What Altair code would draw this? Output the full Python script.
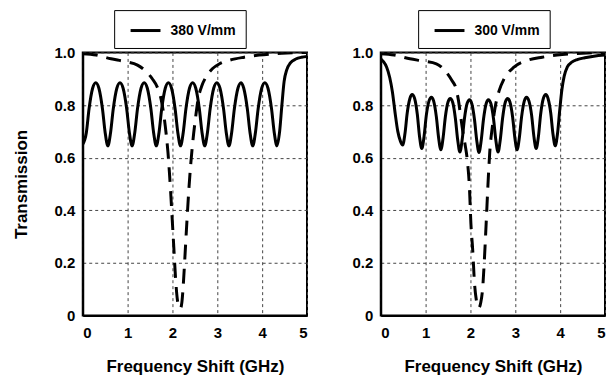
import altair as alt
import pandas as pd

# ---- data ----
x_ticks = [0, 1, 2, 3, 4, 5]
y_ticks = [0, 0.2, 0.4, 0.6, 0.8, 1.0]

label_380 = "380 V/mm"
label_300 = "300 V/mm"

# solid curve, 380 V/mm panel
freq_380 = [0.00, 0.08, 0.14, 0.22, 0.29,
            0.36, 0.44, 0.50, 0.56, 0.62, 0.68, 0.76, 0.83,
            0.90, 0.98, 1.04, 1.10, 1.16, 1.22, 1.30, 1.37,
            1.44, 1.52, 1.58, 1.64, 1.70, 1.76, 1.84, 1.91,
            1.98, 2.06, 2.12, 2.18, 2.24, 2.30, 2.38, 2.45,
            2.52, 2.60, 2.66, 2.72, 2.78, 2.84, 2.92, 2.99,
            3.06, 3.14, 3.20, 3.26, 3.32, 3.38, 3.46, 3.53,
            3.59, 3.67, 3.73, 3.79, 3.85, 3.91, 3.99, 4.06,
            4.13, 4.21, 4.27, 4.33, 4.39, 4.44, 4.49, 4.55, 4.63, 4.75, 4.88, 5.00]
trans_380 = [0.651, 0.695, 0.785, 0.864, 0.885,
             0.864, 0.785, 0.695, 0.645, 0.695, 0.785, 0.864, 0.885,
             0.864, 0.785, 0.695, 0.645, 0.695, 0.785, 0.864, 0.885,
             0.864, 0.785, 0.695, 0.645, 0.695, 0.785, 0.864, 0.885,
             0.864, 0.785, 0.695, 0.645, 0.695, 0.785, 0.864, 0.885,
             0.864, 0.785, 0.695, 0.645, 0.695, 0.785, 0.864, 0.885,
             0.864, 0.785, 0.695, 0.645, 0.695, 0.785, 0.864, 0.885,
             0.864, 0.785, 0.695, 0.645, 0.695, 0.785, 0.864, 0.885,
             0.864, 0.785, 0.695, 0.645, 0.70, 0.80, 0.89, 0.935, 0.96, 0.975, 0.982, 0.985]

# dashed curve, 380 V/mm panel
dfreq_380 = [0.00, 0.30, 0.63, 0.95, 1.22, 1.41, 1.55, 1.67, 1.75, 1.81,
             1.86, 1.90, 1.93, 1.96, 1.99, 2.03, 2.07, 2.11, 2.15, 2.18,
             2.21, 2.25, 2.29, 2.33, 2.37, 2.41, 2.45, 2.51, 2.57, 2.66,
             2.76, 2.89, 3.05, 3.26, 3.60, 3.93, 4.44, 5.00]
dtrans_380 = [0.995, 0.99, 0.976, 0.965, 0.952, 0.928, 0.90, 0.865, 0.82, 0.76,
              0.69, 0.62, 0.55, 0.47, 0.38, 0.26, 0.14, 0.06, 0.03, 0.028,
              0.05, 0.14, 0.26, 0.38, 0.49, 0.58, 0.655, 0.745, 0.82, 0.875,
              0.91, 0.938, 0.957, 0.97, 0.982, 0.99, 0.997, 1.0]

# solid curve, 300 V/mm panel
freq_300 = [0.00, 0.06, 0.13, 0.20, 0.26, 0.32, 0.38, 0.44, 0.49,
            0.54, 0.59, 0.65, 0.70,
            0.755, 0.815, 0.865, 0.915, 0.965, 1.015, 1.075, 1.13,
            1.18, 1.24, 1.29, 1.34, 1.39, 1.44, 1.50, 1.55,
            1.605, 1.665, 1.715, 1.765, 1.815, 1.865, 1.925, 1.98,
            2.03, 2.09, 2.14, 2.19, 2.24, 2.29, 2.35, 2.40,
            2.455, 2.515, 2.565, 2.615, 2.665, 2.715, 2.775, 2.83,
            2.88, 2.94, 2.99, 3.04, 3.09, 3.14, 3.20, 3.25,
            3.305, 3.365, 3.415, 3.465, 3.515, 3.565, 3.625, 3.68,
            3.73, 3.79, 3.84, 3.89, 3.94, 3.99, 4.04, 4.09, 4.16, 4.26, 4.38, 4.55, 4.75, 5.00]
trans_300 = [0.976, 0.965, 0.945, 0.905, 0.85, 0.77, 0.70, 0.662, 0.648,
             0.692, 0.77, 0.825, 0.84,
             0.825, 0.765, 0.68, 0.635, 0.68, 0.76, 0.815, 0.83,
             0.815, 0.755, 0.676, 0.63, 0.676, 0.755, 0.812, 0.825,
             0.81, 0.748, 0.668, 0.622, 0.668, 0.747, 0.806, 0.82,
             0.805, 0.745, 0.666, 0.62, 0.666, 0.745, 0.805, 0.82,
             0.806, 0.747, 0.668, 0.622, 0.668, 0.748, 0.81, 0.825,
             0.812, 0.755, 0.676, 0.63, 0.676, 0.755, 0.815, 0.83,
             0.815, 0.76, 0.68, 0.635, 0.68, 0.765, 0.825, 0.84,
             0.825, 0.77, 0.69, 0.645, 0.69, 0.78, 0.86, 0.91, 0.945, 0.963, 0.973, 0.98, 0.986, 0.99]

# dashed curve, 300 V/mm panel
dfreq_300 = [0.00, 0.30, 0.65, 0.95, 1.24, 1.46, 1.58, 1.68, 1.73, 1.78,
             1.83, 1.88, 1.93, 1.98, 2.01, 2.05, 2.09, 2.13, 2.16, 2.19,
             2.23, 2.27, 2.31, 2.35, 2.40, 2.43, 2.49, 2.56, 2.64, 2.75,
             2.97, 3.27, 3.60, 3.93, 4.60, 5.00]
dtrans_300 = [0.995, 0.99, 0.976, 0.967, 0.957, 0.925, 0.895, 0.862, 0.82, 0.76,
              0.70, 0.65, 0.59, 0.477, 0.35, 0.25, 0.124, 0.06, 0.035, 0.03,
              0.05, 0.10, 0.21, 0.35, 0.53, 0.62, 0.72, 0.80, 0.855, 0.90,
              0.944, 0.97, 0.982, 0.99, 0.998, 1.0]

FONT = "Liberation Sans"
LABEL_EXPR_Y = "datum.value == 0 ? '0' : format(datum.value, '.1f')"


def panel(fs, ts, fd, td, label, ytitle, box_left):
    solid = pd.DataFrame({"f": fs, "T": ts})
    dashed = pd.DataFrame({"f": fd, "T": td})
    legend_df = pd.DataFrame({"series": [label]})

    x = alt.X("f:Q",
              scale=alt.Scale(domain=[0, 5], nice=False, zero=False),
              axis=alt.Axis(values=x_ticks, title="Frequency Shift (GHz)",
                            labelExpr="format(datum.value, 'd')"))
    if ytitle:
        y_axis = alt.Axis(values=y_ticks, title=ytitle, labelExpr=LABEL_EXPR_Y)
    else:
        y_axis = alt.Axis(values=y_ticks, title=None, labelExpr=LABEL_EXPR_Y)
    y = alt.Y("T:Q", scale=alt.Scale(domain=[0, 1], nice=False), axis=y_axis)

    dash_layer = alt.Chart(dashed).mark_line(
        color="black", strokeWidth=3, strokeDash=[15, 9], interpolate="monotone", clip=True
    ).encode(x=x, y=y)

    solid_layer = alt.Chart(solid).mark_line(
        color="black", strokeWidth=3, interpolate="monotone", clip=True
    ).encode(x=x, y=y)

    # legend box drawn above the plot area
    box = alt.Chart(legend_df).mark_rect(
        fill="white", stroke="black", strokeWidth=1
    ).encode(x=alt.value(box_left), x2=alt.value(box_left + 132),
             y=alt.value(-42), y2=alt.value(-4))
    sym = alt.Chart(legend_df).mark_rule(
        color="black", strokeWidth=3
    ).encode(x=alt.value(box_left + 16), x2=alt.value(box_left + 46),
             y=alt.value(-22))
    txt = alt.Chart(legend_df).mark_text(
        align="left", baseline="middle", font=FONT, fontSize=14,
        fontWeight="bold", color="black"
    ).encode(x=alt.value(box_left + 56), y=alt.value(-22), text="series:N")

    return alt.layer(dash_layer, solid_layer, box, sym, txt).properties(width=225, height=264)


left = panel(freq_380, trans_380, dfreq_380, dtrans_380, label_380, "Transmission", 32)
right = panel(freq_300, trans_300, dfreq_300, dtrans_300, label_300, None, 38)

chart = alt.hconcat(left, right, spacing=74, bounds="flush").properties(
    padding={"left": 3, "top": 0, "right": 0, "bottom": 0}
).configure_view(
    stroke="black", strokeWidth=2
).configure_axis(
    domain=True, domainColor="black", domainWidth=2,
    ticks=False,
    labelFont=FONT, labelFontSize=15, labelFontWeight="bold", labelColor="black",
    titleFont=FONT, titleFontSize=17, titleFontWeight="bold", titleColor="black",
    grid=True, gridColor="#444444", gridDash=[3, 3], gridWidth=1, gridOpacity=1
).configure_axisX(
    labelPadding=10, titlePadding=18
).configure_axisY(
    labelPadding=8, titlePadding=24
)

chart.save("out.html", embed_options={"renderer": "svg", "actions": False})
